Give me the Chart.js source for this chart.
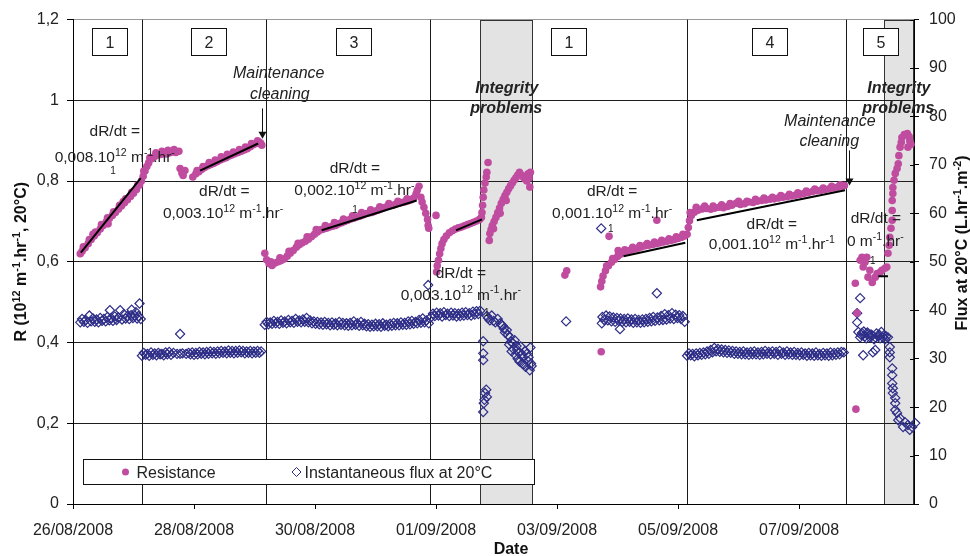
<!DOCTYPE html>
<html>
<head>
<meta charset="utf-8">
<script src="https://cdn.jsdelivr.net/npm/chart.js@4.4.1/dist/chart.umd.min.js"></script>
<style>
html, body { margin: 0; padding: 0; background: #fff; }
#wrap { width: 970px; height: 556px; }
</style>
</head>
<body>
<div id="wrap"><canvas id="resistance_graph" width="970" height="556"></canvas></div>
<script>
// x values are days counted from 26/08/2008 00:00
const startDay = Date.UTC(2008, 7, 26);
const xMaxDay = 13.9;
const fontFamily = "'Liberation Sans', Arial, sans-serif";

// resistance R (10^12 m-1)
const rPhase1 = [[0.12,0.620],[0.15,0.626],[0.17,0.637],[0.20,0.635],[0.25,0.645],[0.27,0.655],[0.30,0.655],[0.33,0.668],[0.35,0.664],[0.37,0.674],[0.40,0.672],[0.45,0.681],[0.47,0.692],[0.50,0.690],[0.55,0.699],[0.57,0.709],[0.58,0.694],[0.60,0.707],[0.65,0.715],[0.67,0.724],[0.70,0.722],[0.75,0.730],[0.77,0.740],[0.80,0.738],[0.83,0.749],[0.85,0.746],[0.87,0.756],[0.90,0.754],[0.95,0.762],[0.97,0.772],[1.00,0.770],[1.05,0.779],[1.07,0.790],[1.10,0.790],[1.13,0.800],[1.16,0.812],[1.17,0.825],[1.19,0.825],[1.22,0.836],[1.25,0.845],[1.27,0.858],[1.30,0.855],[1.35,0.861],[1.37,0.870],[1.40,0.865],[1.45,0.866],[1.47,0.874],[1.50,0.868],[1.55,0.867],[1.57,0.876],[1.60,0.870],[1.65,0.872],[1.67,0.878],[1.70,0.871],[1.75,0.874],
    [1.77,0.831],[1.80,0.820],[1.82,0.814],[1.85,0.826]];
const rPhase2 = [[1.98,0.810],[2.03,0.818],[2.05,0.826],[2.08,0.823],[2.13,0.829],[2.15,0.836],[2.18,0.834],[2.23,0.838],[2.25,0.846],[2.28,0.841],[2.33,0.844],[2.35,0.852],[2.38,0.848],[2.43,0.852],[2.45,0.860],[2.48,0.855],[2.53,0.858],[2.55,0.866],[2.58,0.862],[2.63,0.865],[2.65,0.872],[2.68,0.868],[2.73,0.871],[2.75,0.878],[2.78,0.874],[2.83,0.877],[2.85,0.884],[2.88,0.880],[2.93,0.885],[2.95,0.893],[2.98,0.890],[3.03,0.893],[3.05,0.900],[3.07,0.897],[3.10,0.894],[3.12,0.889]];
const rPhase3 = [[3.17,0.621],[3.20,0.605],[3.24,0.596],[3.27,0.600],[3.29,0.591],[3.34,0.597],[3.39,0.600],[3.42,0.610],[3.44,0.603],[3.49,0.607],[3.54,0.614],[3.57,0.626],[3.59,0.621],[3.64,0.628],[3.69,0.636],[3.72,0.646],[3.74,0.642],[3.79,0.647],[3.84,0.651],[3.87,0.662],[3.89,0.656],[3.94,0.662],[3.99,0.668],[4.02,0.680],[4.04,0.674],[4.09,0.679],[4.14,0.681],[4.17,0.690],[4.19,0.683],[4.24,0.686],[4.29,0.688],[4.32,0.697],[4.34,0.690],[4.39,0.694],[4.44,0.697],[4.47,0.706],[4.49,0.700],[4.54,0.703],[4.59,0.706],[4.62,0.714],[4.64,0.708],[4.69,0.711],[4.74,0.713],[4.77,0.722],[4.79,0.716],[4.84,0.719],[4.89,0.721],[4.92,0.729],[4.94,0.722],[4.99,0.725],[5.04,0.728],[5.07,0.736],[5.09,0.731],[5.14,0.734],[5.19,0.737],[5.22,0.744],[5.24,0.739],[5.29,0.740],[5.34,0.743],[5.37,0.750],[5.39,0.745],[5.44,0.747],[5.49,0.749],[5.52,0.756],[5.54,0.751],[5.59,0.754],[5.63,0.758],[5.67,0.768],[5.69,0.777],[5.72,0.787],[5.75,0.760],[5.77,0.748],[5.80,0.735],[5.83,0.720],[5.86,0.705],[5.87,0.690],[5.88,0.683],[6.00,0.715]];
const rRestart = [[6.01,0.575],[6.02,0.590],[6.04,0.604],[6.06,0.620],[6.08,0.633],[6.10,0.645],[6.13,0.655],[6.17,0.664],[6.22,0.672],[6.27,0.677],[6.32,0.681],[6.37,0.684],[6.42,0.686],[6.47,0.689],[6.52,0.692],[6.57,0.695],[6.62,0.698],[6.67,0.701],[6.72,0.705],[6.75,0.710],[6.76,0.722],[6.77,0.740],[6.78,0.760],[6.79,0.778],[6.81,0.795],[6.83,0.810],[6.84,0.822],[6.86,0.846]];
const rIntegrity1 = [[6.88,0.653],[6.89,0.670],[6.91,0.680],[6.93,0.690],[6.95,0.682],[6.96,0.700],[6.99,0.710],[7.02,0.722],[7.05,0.733],[7.06,0.720],[7.08,0.745],[7.11,0.755],[7.14,0.764],[7.16,0.752],[7.17,0.772],[7.20,0.781],[7.23,0.788],[7.26,0.795],[7.29,0.802],[7.32,0.808],[7.35,0.815],[7.38,0.822],[7.41,0.815],[7.44,0.810],[7.47,0.805],[7.50,0.800],[7.52,0.818],[7.54,0.808],[7.55,0.785],[7.56,0.822]];
const rPhase1b = [[8.13,0.567],[8.16,0.578],[8.73,0.377],[8.72,0.538],[8.74,0.552],[8.76,0.565],[8.80,0.578],[8.82,0.590],[8.85,0.590],[8.86,0.663],[8.90,0.599],[8.92,0.608],[8.95,0.606],[9.00,0.613],[9.01,0.628],[9.02,0.620],[9.05,0.619],[9.10,0.624],[9.12,0.630],[9.16,0.627],[9.22,0.629],[9.25,0.636],[9.28,0.632],[9.34,0.634],[9.37,0.640],[9.40,0.637],[9.46,0.640],[9.49,0.645],[9.52,0.641],[9.58,0.643],[9.61,0.649],[9.64,0.645],[9.65,0.703],[9.70,0.647],[9.73,0.653],[9.76,0.649],[9.82,0.651],[9.85,0.657],[9.88,0.653],[9.94,0.655],[9.97,0.662],[10.00,0.658],[10.06,0.661],[10.08,0.668],[10.11,0.664]];
const rPhase4 = [[10.15,0.668],[10.17,0.685],[10.19,0.702],[10.20,0.722],[10.22,0.715],[10.27,0.723],[10.30,0.735],[10.33,0.728],[10.40,0.731],[10.44,0.738],[10.47,0.732],[10.54,0.730],[10.58,0.738],[10.61,0.733],[10.68,0.735],[10.72,0.741],[10.75,0.734],[10.82,0.737],[10.86,0.744],[10.89,0.740],[10.96,0.745],[11.00,0.750],[11.03,0.742],[11.10,0.744],[11.14,0.750],[11.17,0.748],[11.24,0.747],[11.28,0.755],[11.31,0.750],[11.38,0.752],[11.42,0.758],[11.45,0.753],[11.52,0.755],[11.56,0.760],[11.59,0.756],[11.66,0.758],[11.70,0.764],[11.73,0.760],[11.80,0.761],[11.84,0.767],[11.87,0.763],[11.94,0.765],[11.98,0.771],[12.01,0.767],[12.08,0.769],[12.12,0.775],[12.15,0.771],[12.22,0.774],[12.26,0.780],[12.29,0.776],[12.36,0.777],[12.40,0.783],[12.43,0.779],[12.50,0.781],[12.54,0.787],[12.57,0.783],[12.64,0.785],[12.68,0.791],[12.71,0.787],[12.75,0.789]];
const rPhase5 = [[12.93,0.547],[12.96,0.473],[12.94,0.235],[13.01,0.604],[13.04,0.611],[13.06,0.587],[13.09,0.599],[13.12,0.611],[13.14,0.562],[13.17,0.579],[13.21,0.549],[13.26,0.562],[13.29,0.571],[13.34,0.574],[13.37,0.579],[13.42,0.584],[13.45,0.587],[13.47,0.621],[13.49,0.641],[13.50,0.661],[13.52,0.683],[13.54,0.703],[13.54,0.727],[13.54,0.752],[13.55,0.769],[13.55,0.784],[13.57,0.802],[13.59,0.819],[13.62,0.831],[13.64,0.843],[13.65,0.863],[13.67,0.884],[13.69,0.896],[13.70,0.908],[13.74,0.915],[13.79,0.918],[13.82,0.910],[13.83,0.900],[13.80,0.884],[13.85,0.891]];

// instantaneous flux (L.hr-1.m-2)
const fPhase1 = [[0.12,37.5],[0.15,38.2],[0.18,37.6],[0.21,38.0],[0.24,37.4],[0.27,38.9],[0.30,37.7],[0.33,38.3],[0.36,37.6],[0.39,38.1],[0.42,37.5],[0.45,38.4],[0.48,37.8],[0.51,38.2],[0.54,37.7],[0.57,38.6],[0.60,37.9],[0.61,40.0],[0.63,38.4],[0.66,37.8],[0.69,38.7],[0.72,38.0],[0.75,38.5],[0.78,40.0],[0.81,38.1],[0.84,39.2],[0.87,38.3],[0.90,38.8],[0.93,38.2],[0.96,39.0],[0.97,40.1],[0.99,38.4],[1.02,38.9],[1.04,39.6],[1.06,38.3],[1.08,38.8],[1.10,41.4],[1.12,38.2]];
const fPhase2 = [[1.14,30.6],[1.17,31.2],[1.20,30.8],[1.23,31.0],[1.26,30.6],[1.29,31.3],[1.32,30.8],[1.35,31.1],[1.38,30.7],[1.41,31.2],[1.44,30.9],[1.47,31.0],[1.50,30.7],[1.53,31.3],[1.56,30.9],[1.59,31.4],[1.62,30.8],[1.66,31.2],[1.72,31.0],[1.77,35.1],[1.77,31.0],[1.81,31.1],[1.87,31.0],[1.91,31.2],[1.94,30.9],[1.97,31.3],[2.00,30.8],[2.03,31.2],[2.06,30.9],[2.09,31.4],[2.12,31.0],[2.15,31.3],[2.18,30.9],[2.21,31.4],[2.24,31.0],[2.27,31.5],[2.30,31.1],[2.33,31.4],[2.36,31.0],[2.39,31.5],[2.42,31.1],[2.45,31.6],[2.48,31.2],[2.51,31.5],[2.54,31.1],[2.57,31.7],[2.60,31.2],[2.63,31.6],[2.66,31.1],[2.69,31.6],[2.72,31.2],[2.75,31.7],[2.78,31.3],[2.81,31.6],[2.84,31.1],[2.87,31.5],[2.90,31.2],[2.93,31.6],[2.96,31.1],[2.99,31.5],[3.02,31.2],[3.05,31.6],[3.08,31.2],[3.11,31.5]];
const fPhase3 = [[3.17,37.0],[3.20,37.6],[3.23,37.1],[3.26,37.5],[3.29,37.2],[3.32,37.8],[3.35,37.3],[3.38,37.6],[3.41,37.2],[3.44,37.9],[3.47,37.4],[3.50,37.7],[3.53,37.3],[3.56,38.0],[3.59,37.5],[3.62,37.8],[3.65,37.4],[3.68,38.2],[3.71,37.6],[3.74,37.9],[3.77,37.5],[3.80,38.1],[3.83,37.6],[3.86,38.4],[3.89,37.5],[3.92,37.9],[3.95,37.3],[3.98,37.7],[4.01,37.2],[4.04,37.6],[4.07,37.1],[4.10,37.5],[4.13,37.0],[4.16,37.6],[4.19,37.1],[4.22,37.4],[4.25,36.9],[4.28,37.5],[4.31,37.0],[4.34,37.3],[4.37,36.9],[4.40,37.6],[4.43,37.0],[4.46,37.4],[4.49,36.9],[4.52,37.3],[4.55,36.8],[4.58,37.4],[4.61,36.9],[4.64,37.7],[4.67,37.0],[4.70,37.3],[4.73,36.8],[4.76,37.6],[4.79,36.9],[4.82,37.2],[4.85,36.7],[4.88,37.1],[4.91,36.6],[4.94,37.0],[4.97,36.7],[5.00,37.2],[5.03,36.7],[5.06,37.1],[5.09,36.6],[5.12,37.3],[5.15,36.8],[5.18,37.0],[5.21,36.7],[5.24,37.2],[5.27,36.8],[5.30,37.4],[5.33,36.9],[5.36,37.3],[5.39,36.9],[5.42,37.5],[5.45,37.0],[5.48,37.4],[5.51,37.0],[5.54,37.7],[5.57,37.1],[5.60,37.8],[5.63,37.2],[5.66,37.6],[5.69,37.3],[5.72,38.0],[5.75,37.4],[5.78,38.3],[5.81,37.5],[5.84,37.9],[5.87,45.2],[5.88,37.3]];
const fRestart = [[5.92,38.6],[5.95,39.3],[5.98,38.8],[6.01,39.5],[6.04,38.9],[6.07,39.4],[6.10,38.7],[6.13,39.6],[6.16,39.0],[6.19,39.3],[6.22,38.8],[6.25,39.5],[6.28,38.9],[6.31,39.4],[6.34,38.7],[6.37,39.3],[6.40,38.8],[6.43,39.5],[6.46,38.9],[6.49,39.6],[6.52,39.0],[6.55,39.4],[6.58,38.9],[6.61,39.7],[6.64,39.1],[6.67,39.8],[6.70,39.2],[6.73,39.9]];
const fIntegrity1 = [[6.78,33.6],[6.78,31.1],[6.78,29.7],[6.78,19.0],[6.79,20.8],[6.80,21.5],[6.81,22.9],[6.83,23.6],[6.84,22.1],[6.84,38.8],[6.86,38.4],[6.89,37.9],[6.92,38.9],[6.95,37.8],[6.98,37.5],[7.02,38.2],[7.06,37.3],[7.08,37.0],[7.10,36.8],[7.12,36.2],[7.14,35.4],[7.17,35.9],[7.19,34.9],[7.21,32.9],[7.22,34.4],[7.24,33.5],[7.25,31.5],[7.27,33.2],[7.28,32.0],[7.30,33.8],[7.31,30.8],[7.33,32.6],[7.34,31.8],[7.35,30.0],[7.37,31.2],[7.38,29.4],[7.40,32.5],[7.42,30.9],[7.43,29.0],[7.44,30.3],[7.45,28.8],[7.47,31.6],[7.48,28.3],[7.50,31.0],[7.52,29.5],[7.53,30.3],[7.55,27.6],[7.56,32.3],[7.57,29.0],[7.58,28.5]];
const fPhase1b = [[8.15,37.7],[8.73,56.9],[8.74,37.3],[8.75,38.6],[8.78,38.0],[8.81,38.9],[8.84,37.9],[8.87,38.7],[8.90,37.7],[8.93,38.5],[8.96,37.6],[8.99,38.4],[9.02,37.8],[9.04,36.1],[9.05,38.3],[9.08,37.6],[9.11,38.2],[9.14,37.5],[9.17,38.3],[9.20,37.6],[9.23,38.1],[9.26,37.4],[9.29,38.2],[9.32,37.5],[9.35,38.0],[9.38,37.4],[9.41,38.1],[9.44,37.5],[9.47,38.2],[9.50,37.6],[9.53,38.4],[9.56,37.7],[9.59,38.6],[9.62,37.8],[9.65,43.5],[9.66,38.5],[9.69,37.9],[9.72,38.8],[9.75,38.0],[9.78,39.2],[9.81,38.1],[9.84,39.0],[9.87,38.3],[9.90,39.4],[9.93,38.2],[9.96,39.1],[9.99,38.4],[10.02,39.0],[10.05,38.2],[10.08,38.8],[10.11,37.6]];
const fPhase4 = [[10.15,30.6],[10.18,31.1],[10.21,30.7],[10.24,31.0],[10.27,30.5],[10.30,31.1],[10.33,30.7],[10.36,31.2],[10.39,30.8],[10.42,31.3],[10.45,30.9],[10.48,31.5],[10.51,31.0],[10.54,31.8],[10.57,31.3],[10.60,32.2],[10.63,31.5],[10.66,32.0],[10.69,31.4],[10.72,31.9],[10.75,31.3],[10.78,31.8],[10.81,31.2],[10.84,31.7],[10.87,31.2],[10.90,31.6],[10.93,31.0],[10.96,31.5],[10.99,31.0],[11.02,31.4],[11.05,30.9],[11.08,31.5],[11.11,30.9],[11.14,31.3],[11.17,30.8],[11.20,31.4],[11.23,30.9],[11.26,31.5],[11.29,30.9],[11.32,31.3],[11.35,30.8],[11.38,31.4],[11.41,30.9],[11.44,31.6],[11.47,31.0],[11.50,31.4],[11.53,30.9],[11.56,31.5],[11.59,31.0],[11.62,31.4],[11.65,30.8],[11.68,31.6],[11.71,31.0],[11.74,31.3],[11.77,30.8],[11.80,31.5],[11.83,30.9],[11.86,31.3],[11.89,30.8],[11.92,31.4],[11.95,30.8],[11.98,31.2],[12.01,30.7],[12.04,31.3],[12.07,30.8],[12.10,31.1],[12.13,30.6],[12.16,31.2],[12.19,30.7],[12.22,31.1],[12.25,30.6],[12.28,31.3],[12.31,30.7],[12.34,31.0],[12.37,30.6],[12.40,31.2],[12.43,30.7],[12.46,31.1],[12.49,30.6],[12.52,31.3],[12.55,30.7],[12.58,31.2],[12.61,30.8],[12.64,31.3],[12.67,30.9],[12.70,31.4],[12.74,31.3]];
const fPhase5 = [[12.96,37.5],[12.96,39.4],[12.98,35.5],[13.01,42.5],[13.01,34.4],[13.03,34.9],[13.04,35.3],[13.06,30.7],[13.07,35.6],[13.09,34.6],[13.11,34.2],[13.13,35.4],[13.14,35.1],[13.17,34.4],[13.19,35.0],[13.21,34.8],[13.22,31.3],[13.24,34.0],[13.26,34.4],[13.26,31.8],[13.28,35.2],[13.31,34.6],[13.33,34.9],[13.34,34.2],[13.36,35.5],[13.39,34.4],[13.40,34.8],[13.42,34.0],[13.44,34.6],[13.47,34.4],[13.50,32.4],[13.50,31.3],[13.50,30.3],[13.54,28.0],[13.54,26.6],[13.54,24.9],[13.55,23.9],[13.55,22.9],[13.59,21.9],[13.59,20.8],[13.59,19.4],[13.62,18.8],[13.64,17.3],[13.67,17.7],[13.72,15.9],[13.75,16.9],[13.80,16.3],[13.83,15.3],[13.87,15.9],[13.92,16.7],[13.93,15.3]];

// fitted dR/dt lines: [day start, R start, day end, R end]
const trendLines = [[0.13,0.623,1.12,0.807],[2.10,0.826,3.06,0.893],[4.11,0.678,5.68,0.752],[6.33,0.678,6.76,0.705],[9.10,0.614,10.12,0.647],[10.31,0.703,12.76,0.777],[13.31,0.564,13.47,0.564]];

// phases
const phaseBounds = [1.134, 3.186, 5.908, 10.152, 12.775];
const greyBands = [[6.727, 7.587], [13.412, 13.88]];
const phaseNames = ['1', '2', '3', '1', '4', '5'];
const phaseNameDays = [0.61, 2.24, 4.64, 8.20, 11.52, 13.35];

const resistanceColor = '#c04ca0';
const fluxColor = '#2e2e88';

function toPoints(list) {
    return list.map(function (p) {
        return {x: p[0], y: p[1]};
    }).sort(function (a, b) {
        return a.x - b.x;
    });
}

const notes = [
    {t: 'dR/dt =', d: 0.69, r: 0.925},
    {t: '0,008.10^{12} m^{-1}.hr^{-}', d: 0.69, r: 0.861},
    {t: '1', d: 0.66, r: 0.826, s: 10},
    {t: 'dR/dt =', d: 2.50, r: 0.777},
    {t: '0,003.10^{12} m^{-1}.hr^{-}', d: 2.48, r: 0.722},
    {t: 'Maintenance', d: 3.40, r: 1.069, st: 'italic', s: 16},
    {t: 'cleaning', d: 3.42, r: 1.017, st: 'italic', s: 16},
    {t: 'dR/dt =', d: 4.66, r: 0.834},
    {t: '0,002.10^{12} m^{-1}.hr^{-}', d: 4.65, r: 0.779},
    {t: '1', d: 4.66, r: 0.730, s: 10},
    {t: 'Integrity', d: 7.17, r: 1.032, st: 'italic bold', s: 16},
    {t: 'problems', d: 7.16, r: 0.982, st: 'italic bold', s: 16},
    {t: 'dR/dt =', d: 6.41, r: 0.574},
    {t: '0,003.10^{12} m^{-1}.hr^{-}', d: 6.41, r: 0.520},
    {t: '1', d: 6.84, r: 0.475, s: 10},
    {t: 'dR/dt =', d: 8.91, r: 0.777},
    {t: '0,001.10^{12} m^{-1}.hr^{-}', d: 8.91, r: 0.722},
    {t: '1', d: 8.89, r: 0.683, s: 10},
    {t: 'Maintenance', d: 12.51, r: 0.950, st: 'italic', s: 16},
    {t: 'cleaning', d: 12.50, r: 0.901, st: 'italic', s: 16},
    {t: 'dR/dt =', d: 11.55, r: 0.695},
    {t: '0,001.10^{12} m^{-1}.hr^{-1}', d: 11.55, r: 0.646},
    {t: 'dR/dt =', d: 13.27, r: 0.710},
    {t: '0 m^{-1}.hr^{-}', d: 13.26, r: 0.653},
    {t: '1', d: 13.22, r: 0.604, s: 10},
    {t: 'Integrity', d: 13.65, r: 1.032, st: 'italic bold', s: 16},
    {t: 'problems', d: 13.64, r: 0.982, st: 'italic bold', s: 16}
];
// maintenance arrows: [day, R top, R tip]
const arrows = [[3.124, 0.980, 0.905], [12.826, 0.876, 0.789]];

// text with ^{..} superscripts, y is the baseline
function richText(ctx, text, x, y, size, style, align) {
    const parts = [];
    const re = /\^\{([^}]*)\}/g;
    let last = 0, m;
    while ((m = re.exec(text)) !== null) {
        if (m.index > last) parts.push({s: text.slice(last, m.index), sup: false});
        parts.push({s: m[1], sup: true});
        last = re.lastIndex;
    }
    if (last < text.length) parts.push({s: text.slice(last), sup: false});
    const supSize = size * 0.68;
    let width = 0;
    parts.forEach(function (p) {
        ctx.font = (style ? style + ' ' : '') + (p.sup ? supSize : size) + 'px ' + fontFamily;
        p.w = ctx.measureText(p.s).width;
        width += p.w;
    });
    let cx = align === 'left' ? x : x - width / 2;
    ctx.textAlign = 'left';
    ctx.textBaseline = 'alphabetic';
    parts.forEach(function (p) {
        ctx.font = (style ? style + ' ' : '') + (p.sup ? supSize : size) + 'px ' + fontFamily;
        ctx.fillText(p.s, cx, p.sup ? y - size * 0.4 : y);
        cx += p.w;
    });
}

const membranePlugin = {
    id: 'membraneNotes',
    beforeDraw: function (chart) {
        const ctx = chart.ctx, area = chart.chartArea, xs = chart.scales.x;
        ctx.save();
        greyBands.forEach(function (band) {
            const x0 = Math.round(xs.getPixelForValue(band[0])) + 0.5;
            const x1 = Math.round(xs.getPixelForValue(band[1])) + 0.5;
            ctx.fillStyle = '#e3e3e3';
            ctx.fillRect(x0, area.top, x1 - x0, area.bottom - area.top);
            ctx.strokeStyle = '#333';
            ctx.lineWidth = 1;
            ctx.strokeRect(x0, Math.round(area.top) + 0.5, x1 - x0, Math.round(area.bottom - area.top));
        });
        ctx.restore();
    },
    beforeDatasetsDraw: function (chart) {
        const ctx = chart.ctx, area = chart.chartArea, xs = chart.scales.x, y1 = chart.scales.y1;
        ctx.save();
        ctx.strokeStyle = '#1a1a1a';
        ctx.lineWidth = 1;
        phaseBounds.forEach(function (d) {
            const px = Math.round(xs.getPixelForValue(d)) + 0.5;
            ctx.beginPath();
            ctx.moveTo(px, area.top);
            ctx.lineTo(px, area.bottom);
            ctx.stroke();
        });
        // right axis ticks cross the axis line
        ctx.strokeStyle = '#000';
        y1.ticks.forEach(function (t) {
            const py = Math.round(y1.getPixelForValue(t.value)) + 0.5;
            ctx.beginPath();
            ctx.moveTo(area.right - 4, py);
            ctx.lineTo(area.right, py);
            ctx.stroke();
        });
        ctx.restore();
    },
    afterDatasetsDraw: function (chart) {
        const ctx = chart.ctx, area = chart.chartArea, xs = chart.scales.x, ys = chart.scales.y;
        ctx.save();
        // phase number boxes
        phaseNames.forEach(function (name, i) {
            const cx = Math.round(xs.getPixelForValue(phaseNameDays[i]));
            const top = Math.round(area.top) + 8.5;
            ctx.fillStyle = '#fff';
            ctx.fillRect(cx - 17.5, top, 35, 27);
            ctx.strokeStyle = '#111';
            ctx.lineWidth = 1;
            ctx.strokeRect(cx - 17.5, top, 35, 27);
            ctx.fillStyle = '#222';
            richText(ctx, name, cx, top + 19, 16, '', 'center');
        });
        // dR/dt notes
        ctx.fillStyle = '#222';
        notes.forEach(function (n) {
            const size = n.s || 15.5;
            const px = xs.getPixelForValue(n.d);
            const py = ys.getPixelForValue(n.r) + size * 0.36;
            richText(ctx, n.t, px, py, size, n.st || '', 'center');
        });
        // arrows
        ctx.strokeStyle = '#111';
        ctx.fillStyle = '#111';
        arrows.forEach(function (a) {
            const px = Math.round(xs.getPixelForValue(a[0])) + 0.5;
            const top = ys.getPixelForValue(a[1]);
            const tip = ys.getPixelForValue(a[2]);
            ctx.beginPath();
            ctx.moveTo(px, top);
            ctx.lineTo(px, tip - 6);
            ctx.stroke();
            ctx.beginPath();
            ctx.moveTo(px - 4, tip - 7);
            ctx.lineTo(px + 4, tip - 7);
            ctx.lineTo(px, tip);
            ctx.closePath();
            ctx.fill();
        });
        // legend
        const lx = Math.round(area.left) + 10.5, ly = Math.round(area.bottom) - 44.5;
        ctx.fillStyle = '#fff';
        ctx.fillRect(lx, ly, 451, 25);
        ctx.strokeStyle = '#111';
        ctx.strokeRect(lx, ly, 451, 25);
        ctx.fillStyle = resistanceColor;
        ctx.beginPath();
        ctx.arc(lx + 42, ly + 12.5, 3.5, 0, Math.PI * 2);
        ctx.fill();
        ctx.fillStyle = '#222';
        richText(ctx, 'Resistance', lx + 53, ly + 18.5, 16, '', 'left');
        ctx.strokeStyle = fluxColor;
        ctx.beginPath();
        ctx.moveTo(lx + 213, ly + 8);
        ctx.lineTo(lx + 217.5, ly + 12.5);
        ctx.lineTo(lx + 213, ly + 17);
        ctx.lineTo(lx + 208.5, ly + 12.5);
        ctx.closePath();
        ctx.stroke();
        ctx.fillStyle = '#222';
        richText(ctx, 'Instantaneous flux at 20°C', lx + 221, ly + 18.5, 16, '', 'left');
        // axis titles
        ctx.fillStyle = '#111';
        ctx.save();
        ctx.translate(20, (area.top + area.bottom) / 2);
        ctx.rotate(-Math.PI / 2);
        richText(ctx, 'R (10^{12} m^{-1}.hr^{-1}, 20°C)', 0, 6, 16, 'bold', 'center');
        ctx.restore();
        ctx.save();
        ctx.translate(961, 243);
        ctx.rotate(-Math.PI / 2);
        richText(ctx, 'Flux at 20°C (L.hr^{-1}.m^{-2})', 0, 6, 16, 'bold', 'center');
        ctx.restore();
        richText(ctx, 'Date', 511, 554, 16, 'bold', 'center');
        ctx.restore();
    }
};

function pad(n) {
    return (n < 10 ? '0' : '') + n;
}

const datasets = trendLines.map(function (t) {
    return {
        data: [{x: t[0], y: t[1]}, {x: t[2], y: t[3]}],
        yAxisID: 'y',
        showLine: true,
        borderColor: '#000',
        borderWidth: 2,
        pointRadius: 0,
        order: 0
    };
});
datasets.push({
    label: 'Resistance',
    data: toPoints([].concat(rPhase1, rPhase2, rPhase3, rRestart, rIntegrity1, rPhase1b, rPhase4, rPhase5)),
    yAxisID: 'y',
    pointStyle: 'circle',
    pointRadius: 3.8,
    pointBorderWidth: 0,
    backgroundColor: resistanceColor,
    borderColor: resistanceColor,
    clip: false,
    order: 1
});
datasets.push({
    label: 'Instantaneous flux at 20°C',
    data: toPoints([].concat(fPhase1, fPhase2, fPhase3, fRestart, fIntegrity1, fPhase1b, fPhase4, fPhase5)),
    yAxisID: 'y1',
    pointStyle: 'rectRot',
    pointRadius: 4.6,
    pointBorderWidth: 1.2,
    backgroundColor: 'rgba(255,255,255,0)',
    borderColor: fluxColor,
    clip: false,
    order: 2
});

new Chart(document.getElementById('resistance_graph'), {
    type: 'scatter',
    data: {datasets: datasets},
    options: {
        responsive: false,
        animation: false,
        events: [],
        layout: {padding: {top: 19, left: 0, right: 0, bottom: 0}},
        plugins: {
            legend: {display: false},
            tooltip: {enabled: false}
        },
        scales: {
            x: {
                type: 'linear',
                min: 0,
                max: xMaxDay,
                afterFit: function (scale) { scale.height = 52; },
                border: {display: true, color: '#000', width: 1},
                grid: {drawOnChartArea: false, drawTicks: true, tickLength: 5, color: '#000'},
                ticks: {
                    stepSize: 2,
                    includeBounds: false,
                    maxRotation: 0,
                    autoSkip: false,
                    padding: 12,
                    color: '#222',
                    font: {family: fontFamily, size: 16},
                    callback: function (value) {
                        const d = new Date(startDay + value * 86400000);
                        return pad(d.getUTCDate()) + '/' + pad(d.getUTCMonth() + 1) + '/' + d.getUTCFullYear();
                    }
                }
            },
            y: {
                position: 'left',
                min: 0,
                max: 1.2,
                afterFit: function (scale) { scale.width = 73; },
                border: {display: true, color: '#000', width: 1},
                grid: {
                    color: function (c) {
                        return c.tick && c.tick.value > 1.15 ? '#9a9a9a' : '#1e1e1e';
                    },
                    tickColor: '#000',
                    tickLength: 6
                },
                ticks: {
                    stepSize: 0.2,
                    padding: 8,
                    color: '#222',
                    font: {family: fontFamily, size: 16},
                    callback: function (value) {
                        return String(Math.round(value * 10) / 10).replace('.', ',');
                    }
                }
            },
            y1: {
                position: 'right',
                min: 0,
                max: 100,
                afterFit: function (scale) { scale.width = 56; },
                border: {display: true, color: '#000', width: 1},
                grid: {drawOnChartArea: false, tickLength: 5, color: '#000'},
                ticks: {
                    stepSize: 10,
                    padding: 10,
                    color: '#222',
                    font: {family: fontFamily, size: 16}
                }
            }
        }
    },
    plugins: [membranePlugin]
});
</script>
</body>
</html>
